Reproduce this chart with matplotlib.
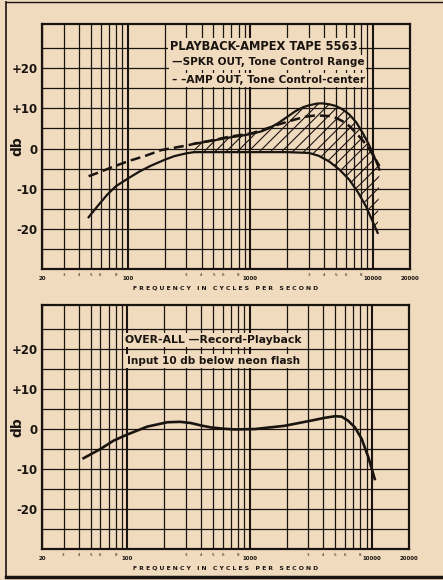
import matplotlib
matplotlib.use("Agg")
import matplotlib.pyplot as plt
from matplotlib.lines import Line2D

BG = "#f1dbbf"
INK = "#1a1410"
plt.rcParams["font.family"] = ["DejaVu Sans"]
plt.rcParams["hatch.linewidth"] = 0.8

# ---- data (frequency in Hz, level in dB) ----
spkr_low_f = [48, 58, 68, 80, 100, 125, 154, 200, 240, 300, 348, 500, 1000, 2000,
              3000, 3600, 4375, 5300, 6390, 7500, 8750, 9800, 10900]
spkr_low_db = [-17.1, -14.0, -11.5, -9.4, -7.5, -5.7, -4.3, -2.8, -1.9, -1.2, -0.9, -0.9,
               -0.9, -0.9, -1.1, -1.8, -3.2, -5.2, -7.75, -10.8, -14.4, -17.8, -21]

spkr_up_f = [350, 500, 660, 850, 1000, 1240, 1450, 1700, 2000, 2330, 2700, 3000, 3500,
             3850, 4400, 4960, 5600, 6390, 7300, 8220, 9100, 9930, 10600, 11270]
spkr_up_db = [1.2, 2.0, 2.7, 3.2, 3.6, 4.3, 5.2, 6.4, 7.9, 9.3, 10.3, 10.75, 11.2,
              11.25, 11.0, 10.6, 9.8, 8.5, 6.5, 3.9, 1.4, -1.1, -3.2, -5.25]

amp_f = [48, 60, 75, 100, 140, 187, 250, 309, 350, 500, 660, 1026, 1300, 1700, 2327,
         2800, 3400, 4375, 5000, 5640, 6400, 7260, 8300, 9350, 10300, 11270]
amp_db = [-6.9, -5.8, -4.6, -3.2, -1.8, -0.4, 0.3, 0.8, 1.2, 2.1, 2.9, 3.8, 4.8, 6.0, 7.25,
          7.9, 8.25, 8.1, 7.6, 6.8, 5.6, 3.9, 1.9, -0.25, -2.3, -4.4]

overall_f = [43.7, 60, 77, 99, 145, 212, 270, 329, 398, 480, 600, 748, 1100, 1920, 3170,
             4100, 4970, 5630, 6350, 7240, 8220, 9320, 10500]
overall_db = [-7.3, -5.0, -2.9, -1.4, 0.6, 1.7, 1.8, 1.5, 0.9, 0.4, 0.1, -0.1, 0.0, 0.8,
              2.1, 2.8, 3.2, 3.1, 2.1, 0.4, -2.5, -7.1, -12.5]

y_ticks = [20, 10, 0, -10, -20]
y_labels = ["+20", "+10", "0", "-10", "-20"]
major_x = [20, 100, 1000, 10000, 20000]
major_x_labels = ["20", "100", "1000", "10000", "20000"]
minor_digits = [3, 4, 5, 6, 8]


def graph_paper(ax):
    ax.set_facecolor(BG)
    ax.set_xscale("log")
    ax.set_xlim(20, 20000)
    ax.set_ylim(-30, 31)
    # vertical rules: every unit step inside each decade, heavier at decades
    for dec in [10, 100, 1000]:
        for m in range(2 if dec == 10 else 1, 10):
            lw = 1.5 if m == 1 else 0.9
            ax.axvline(m * dec, color=INK, lw=lw, zorder=1)
    ax.axvline(10000, color=INK, lw=1.5, zorder=1)
    for y in range(-25, 30, 5):
        ax.axhline(y, color=INK, lw=0.9, zorder=1)
    for s in ax.spines.values():
        s.set_linewidth(1.6)
        s.set_color(INK)
    ax.set_yticks(y_ticks)
    ax.set_yticklabels(y_labels, fontsize=8.5, fontweight="bold", color=INK)
    ax.set_xticks(major_x)
    ax.set_xticklabels(major_x_labels, fontsize=4, fontweight="bold", color=INK)
    minor = [d * dec for dec in [10, 100, 1000] for d in minor_digits]
    ax.set_xticks(minor, minor=True)
    ax.set_xticklabels([str(v)[0] for v in minor], minor=True, fontsize=3, color=INK)
    ax.tick_params(axis="both", which="both", length=0, pad=3)
    ax.tick_params(axis="x", which="major", pad=5)
    ax.set_xlabel("F R E Q U E N C Y   I N   C Y C L E S   P E R   S E C O N D",
                  fontsize=4.4, fontweight="bold", color=INK, labelpad=3)
    ax.set_ylabel("db", fontsize=10, fontweight="bold", color=INK)
    ax.yaxis.set_label_coords(-0.047, 0.5)


fig = plt.figure(figsize=(4.43, 5.8), dpi=100, facecolor=BG)

# page frame of the scanned figure
fig.add_artist(Line2D([6 / 443, 6 / 443], [2 / 580, 578 / 580], color=INK, lw=1.2))
fig.add_artist(Line2D([6 / 443, 1.0], [578 / 580, 578 / 580], color=INK, lw=1.0))
fig.add_artist(Line2D([6 / 443, 1.0], [3 / 580, 3 / 580], color=INK, lw=2.5))

# ---- top: playback ----
ax1 = fig.add_axes([0.0948, 0.5362, 0.8307, 0.4224])
graph_paper(ax1)
low_idx = [i for i, f in enumerate(spkr_low_f) if f >= 348]
poly_f = spkr_up_f + [spkr_low_f[i] for i in low_idx][::-1]
poly_db = spkr_up_db + [spkr_low_db[i] for i in low_idx][::-1]
ax1.fill(poly_f, poly_db, facecolor="none", edgecolor=INK, hatch="///",
         linewidth=0, zorder=2)
ax1.plot(spkr_low_f, spkr_low_db, color=INK, lw=1.6, zorder=3)
ax1.plot(spkr_up_f, spkr_up_db, color=INK, lw=1.6, zorder=3)
ax1.plot(amp_f, amp_db, color=INK, lw=1.8, ls=(0, (4, 2)), zorder=3)

txt = dict(color=INK, fontweight="bold", zorder=4, ha="left", va="center",
           bbox=dict(facecolor=BG, edgecolor="none", pad=1.5))
ax1.text(0.347, 0.909, "PLAYBACK-AMPEX TAPE 5563", fontsize=8.3, transform=ax1.transAxes, **txt)
ax1.text(0.352, 0.843, "\u2014SPKR OUT, Tone Control Range", fontsize=7.6, transform=ax1.transAxes, **txt)
ax1.text(0.352, 0.770, "\u2013 \u2013AMP OUT, Tone Control-center", fontsize=7.6, transform=ax1.transAxes, **txt)

# ---- bottom: over-all ----
ax2 = fig.add_axes([0.0948, 0.0534, 0.8284, 0.4207])
graph_paper(ax2)
ax2.plot(overall_f, overall_db, color=INK, lw=1.9, zorder=3)
ax2.text(0.467, 0.855, "OVER-ALL \u2014Record-Playback", fontsize=7.8, transform=ax2.transAxes,
         **{**txt, "ha": "center"})
ax2.text(0.467, 0.77, "Input 10 db below neon flash", fontsize=7.6, transform=ax2.transAxes,
         **{**txt, "ha": "center"})

fig.savefig("out.png", dpi=100, facecolor=BG)
